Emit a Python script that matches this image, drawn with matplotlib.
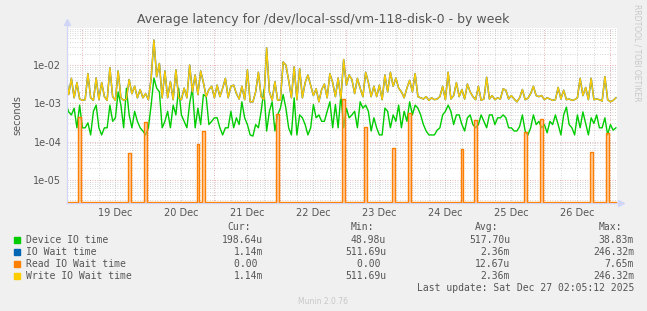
import numpy as np
import matplotlib
matplotlib.use("Agg")
import matplotlib.pyplot as plt
from matplotlib.patches import Rectangle
from matplotlib.lines import Line2D

# hourly samples, hour 0 = 19 Dec 00:00
hours = np.arange(-6, 195)

# Device IO time (ms)
device_ms = [
    1.0, 0.6, 0.5, 0.75, 0.23, 0.9,
    0.23, 0.23, 0.31, 0.15, 0.62, 0.9, 0.23, 0.15, 0.23, 0.23, 0.9, 0.34,
    0.42, 2.0, 0.9, 0.23, 2.5, 0.5, 0.23, 0.62, 0.34, 0.23, 0.19, 0.15,
    0.23, 0.9, 4.6, 2.5, 2.0, 0.23, 0.34, 0.62, 0.23, 0.9, 0.5, 2.5,
    0.5, 0.34, 0.23, 1.0, 2.5, 0.23, 0.75, 0.28, 1.7, 1.5, 0.28, 0.34,
    0.42, 0.42, 0.23, 0.15, 0.23, 0.23, 0.62, 0.23, 0.42, 0.28, 1.1, 0.42,
    0.28, 0.15, 0.14, 0.28, 0.23, 0.62, 2.3, 0.19, 0.62, 1.1, 0.19, 0.5,
    0.75, 1.7, 0.75, 0.23, 0.15, 1.4, 0.15, 0.5, 0.42, 0.28, 0.15, 0.23,
    0.93, 0.42, 0.5, 0.34, 0.34, 0.62, 1.1, 0.23, 0.93, 0.23, 1.7, 0.23,
    0.75, 0.42, 0.5, 0.62, 0.23, 1.1, 0.75, 0.9, 0.62, 0.19, 0.42, 0.23,
    0.15, 0.15, 0.75, 0.62, 0.23, 0.5, 0.34, 0.9, 0.23, 0.62, 0.34, 1.1,
    0.5, 0.9, 0.75, 0.5, 0.28, 0.19, 0.15, 0.15, 0.15, 0.2, 0.23, 0.5,
    0.62, 0.9, 0.62, 0.28, 0.5, 0.5, 0.28, 0.19, 0.42, 0.5, 0.28, 0.23,
    0.28, 0.5, 0.34, 0.23, 0.5, 0.5, 0.28, 0.42, 0.42, 0.5, 0.42, 0.23,
    0.23, 0.19, 0.19, 0.25, 0.5, 0.19, 0.15, 0.23, 0.5, 0.28, 0.34, 0.23,
    0.28, 0.17, 0.34, 0.28, 0.5, 0.28, 0.15, 0.5, 0.8, 0.28, 0.23, 0.15,
    0.5, 0.23, 0.6, 0.3, 0.15, 0.42, 0.3, 0.5, 0.23, 0.23, 0.42, 0.15,
    0.28, 0.2, 0.23,
]

# Write IO Wait time (ms); IO Wait time is the same series
write_ms = [
    5.5, 1.7, 4.5, 1.4, 3.5, 1.3,
    1.2, 1.25, 6.0, 1.4, 1.2, 4.6, 1.25, 3.5, 1.5, 1.2, 8.5, 1.5,
    1.2, 7.0, 1.4, 1.2, 1.3, 4.2, 1.8, 2.8, 1.4, 2.3, 1.4, 1.8,
    1.25, 4.5, 45, 5.0, 11, 1.4, 7.0, 1.4, 3.7, 1.25, 7.5, 1.4,
    1.25, 2.5, 1.4, 10, 2.0, 5.5, 1.7, 7.0, 3.5, 1.5, 2.3, 2.8,
    1.4, 3.0, 1.5, 2.5, 4.5, 1.4, 2.8, 3.0, 1.8, 1.3, 2.8, 1.25,
    7.5, 1.1, 1.1, 2.0, 6.5, 1.5, 1.25, 28, 2.0, 1.2, 3.7, 1.2,
    1.25, 12, 10, 4.0, 1.4, 9.0, 1.25, 8.0, 1.4, 3.5, 5.5, 3.0,
    1.6, 2.4, 1.1, 2.3, 3.2, 1.4, 6.0, 3.5, 1.5, 4.6, 1.3, 14,
    3.0, 5.5, 4.2, 1.8, 4.5, 2.5, 1.5, 6.5, 3.5, 1.5, 2.8, 1.5,
    3.0, 1.25, 5.5, 2.0, 6.5, 2.8, 4.6, 2.5, 2.0, 1.4, 2.5, 4.0,
    2.0, 6.0, 1.5, 1.4, 1.3, 1.5, 1.2, 1.4, 1.25, 1.3, 1.5, 2.8,
    1.25, 6.5, 1.3, 1.6, 3.5, 1.5, 2.3, 1.3, 3.2, 2.0, 1.5, 1.25,
    2.8, 1.2, 1.3, 4.8, 1.3, 1.6, 1.25, 1.4, 1.3, 2.4, 2.2, 1.3,
    1.6, 1.3, 1.1, 1.4, 2.3, 1.25, 1.35, 1.8, 2.8, 1.6, 1.5, 1.6,
    1.25, 1.4, 1.3, 1.2, 1.25, 2.6, 1.3, 2.2, 1.25, 1.3, 1.2, 1.25,
    1.4, 4.5, 1.6, 2.6, 1.25, 4.5, 1.25, 1.3, 1.25, 1.15, 5.0, 1.25,
    1.1, 1.2, 1.4,
]

# Read IO Wait time: zero except these hours (ms)
read_hours = [-1, 17, 23, 42, 44, 71, 95, 103, 113, 119, 138, 143, 161, 167, 185, 191]
read_vals = [0.44, 0.05, 0.33, 0.087, 0.19, 0.53, 1.3, 0.24, 0.068, 0.56, 0.064, 0.36,
             0.18, 0.39, 0.054, 0.17]

day_labels = ["19 Dec", "20 Dec", "21 Dec", "22 Dec", "23 Dec", "24 Dec", "25 Dec", "26 Dec"]
ytick_vals = [1e-5, 1e-4, 1e-3, 1e-2]
ytick_labels = ["1e-05", "1e-04", "1e-03", "1e-02"]

legend_names = ["Device IO time", "IO Wait time", "Read IO Wait time", "Write IO Wait time"]
legend_colors = ["#00CC00", "#0066B3", "#FF8000", "#FFCC00"]
cur_vals = ["198.64u", "1.14m", "0.00 ", "1.14m"]
min_vals = ["48.98u", "511.69u", "0.00 ", "511.69u"]
avg_vals = ["517.70u", "2.36m", "12.67u", "2.36m"]
max_vals = ["38.83m", "246.32m", "7.65m", "246.32m"]

YMIN, YMAX = 2.55e-6, 0.093
W, H = 647, 311
FG = "#555555"

device = np.array(device_ms) / 1000
write = np.array(write_ms) / 1000
read = np.zeros(len(hours))
for h, v in zip(read_hours, read_vals):
    read[h + 6] = v / 1000
read_plot = np.clip(read, YMIN * 1.02, None)

fig = plt.figure(figsize=(W / 100, H / 100), dpi=100, facecolor="#F0F0F0")
ax = fig.add_axes([67 / W, 1 - 202.7 / H, 550 / W, 174.7 / H])
ax.set_facecolor("white")
ax.set_yscale("log")
ax.set_xlim(-5.6, 194.4)
ax.set_ylim(YMIN, YMAX)

# grid
for hh in range(-6, 198, 6):
    if hh % 24 == 0:
        ax.axvline(hh, color="#E08080", lw=0.6, ls=(0, (1, 2)), alpha=0.8, zorder=1)
    else:
        ax.axvline(hh, color="#999999", lw=0.6, ls=(0, (1, 2)), alpha=0.55, zorder=1)
for dec in range(-6, -1):
    for k in range(1, 10):
        v = k * 10.0 ** dec
        if YMIN < v < YMAX:
            if k == 1:
                ax.axhline(v, color="#E08080", lw=0.6, ls=(0, (1, 2)), alpha=0.8, zorder=1)
            else:
                ax.axhline(v, color="#999999", lw=0.6, ls=(0, (1, 2)), alpha=0.55, zorder=1)

ax.plot(hours, device, color="#00CC00", lw=1.0, zorder=3)
ax.plot(hours, write, color="#0066B3", lw=1.1, zorder=4)
ax.fill_between(hours, YMIN, read_plot, step="mid", color="#FFB070", alpha=0.6, lw=0, zorder=5)
ax.plot(hours, read_plot, color="#FF8000", lw=1.0, drawstyle="steps-mid", zorder=5)
ax.plot(hours, write, color="#FFCC00", lw=1.0, zorder=6)

ax.set_xticks(np.arange(12, 193, 24))
ax.set_xticklabels(day_labels)
ax.set_yticks(ytick_vals)
ax.set_yticklabels(ytick_labels)
ax.yaxis.set_minor_locator(matplotlib.ticker.NullLocator())
ax.tick_params(axis="both", length=0, labelsize=7, colors=FG, pad=4)
for s in ["top", "right"]:
    ax.spines[s].set_visible(False)
for s in ["left", "bottom"]:
    ax.spines[s].set_color("#CFD6F8")
    ax.spines[s].set_linewidth(0.8)
ax.set_ylabel("seconds", fontsize=7, color=FG, labelpad=8)

# axis arrows
fig.add_artist(Line2D([67 / W, 67 / W], [1 - 203 / H, 1 - 22 / H], color="#CFD6F8", lw=0.8))
fig.add_artist(Line2D([67 / W], [1 - 22 / H], marker="^", ms=4, color="#CFD6F8", lw=0))
fig.add_artist(Line2D([67 / W, 621 / W], [1 - 203 / H, 1 - 203 / H], color="#CFD6F8", lw=0.8))
fig.add_artist(Line2D([621 / W], [1 - 203 / H], marker=">", ms=4, color="#CFD6F8", lw=0))

fig.text(323 / W, 1 - 19 / H, "Average latency for /dev/local-ssd/vm-118-disk-0 - by week",
         ha="center", va="center", fontsize=9, color=FG)
fig.text(637 / W, 1 - 4 / H, "RRDTOOL / TOBI OETIKER", rotation=270, ha="center", va="top",
         fontsize=5.5, color="#C8C8C8")

mono = dict(family="DejaVu Sans Mono", fontsize=7, color=FG, va="center")
col_right = [263, 386, 510, 634]
for x, t in zip(col_right, ["Cur:", "Min:", "Avg:", "Max:"]):
    fig.text((x - 12) / W, 1 - 227 / H, t, ha="right", **mono)
for i, name in enumerate(legend_names):
    y = 240 + i * 12
    fig.add_artist(Rectangle((14 / W, 1 - (y + 3) / H), 6 / W, 6 / H, color=legend_colors[i],
                             transform=fig.transFigure))
    fig.text(26 / W, 1 - y / H, name, ha="left", **mono)
    for x, col in zip(col_right, [cur_vals, min_vals, avg_vals, max_vals]):
        fig.text(x / W, 1 - y / H, col[i], ha="right", **mono)
fig.text(634 / W, 1 - 288 / H, "Last update: Sat Dec 27 02:05:12 2025", ha="right", **mono)
fig.text(323 / W, 1 - 301 / H, "Munin 2.0.76", ha="center", va="center", fontsize=5.5,
         color="#C8C8C8")

fig.savefig("out.png", dpi=100, facecolor=fig.get_facecolor())
